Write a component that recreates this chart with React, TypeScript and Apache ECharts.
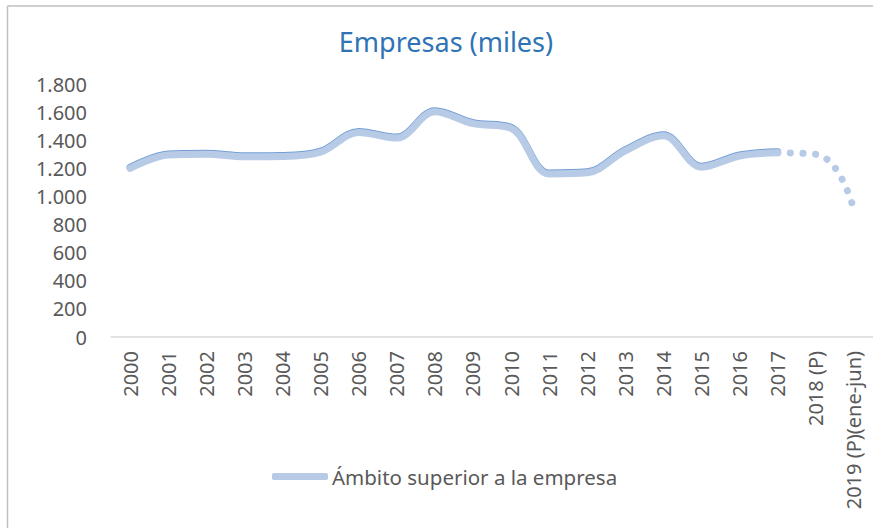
import React, { useEffect, useRef } from "react";
import * as echarts from "echarts";

const categories = [
  "2000", "2001", "2002", "2003", "2004", "2005", "2006", "2007", "2008", "2009",
  "2010", "2011", "2012", "2013", "2014", "2015", "2016", "2017", "2018 (P)", "2019 (P)(ene-jun)",
];
const seriesName = "Ámbito superior a la empresa";
const empresas = [
  1200, 1295, 1300, 1282, 1284, 1315, 1455, 1415, 1603, 1518,
  1485, 1160, 1168, 1325, 1432, 1208, 1288, 1311, 1300, 905,
];
const solidCount = 18; // 2000..2017 solid, then dotted to 2019

const FONT = "'Noto Sans', 'Open Sans', sans-serif";

export default function App() {
  const ref = useRef<HTMLDivElement>(null);
  useEffect(() => {
    if (!ref.current) return;
    const chart = echarts.init(ref.current, null, { renderer: "svg" });
    const solid = empresas.map((v, i) => (i < solidCount ? v : "-"));
    const dotted = empresas.map((v, i) => (i >= solidCount - 1 ? v : "-"));
    const lineColor = "#b7cbe6";
    const edgeColor = "#6f9dd3";
    chart.setOption({
      animation: false,
      backgroundColor: "#ffffff",
      title: {
        text: "Empresas (miles)",
        left: 446,
        textAlign: "center",
        top: 28,
        padding: 0,
        textStyle: { color: "#2e74b5", fontFamily: FONT, fontSize: 27, fontWeight: "normal" },
      },
      legend: {
        data: [seriesName],
        left: 272,
        top: 466,
        padding: 0,
        icon: "roundRect",
        itemWidth: 56,
        itemHeight: 7,
        itemStyle: { color: lineColor },
        textStyle: { color: "#595959", fontFamily: FONT, fontSize: 20.5, padding: [0, 0, 0, -1] },
      },
      grid: { left: 111, right: 0, top: 84, bottom: 191, containLabel: false },
      xAxis: {
        type: "category",
        data: categories,
        boundaryGap: true,
        axisTick: { show: false },
        axisLine: { show: true, lineStyle: { color: "#d9d9d9", width: 1.5 } },
        axisLabel: {
          rotate: 90,
          interval: 0,
          margin: 14,
          color: "#595959",
          fontFamily: FONT,
          fontSize: 20,
        },
      },
      yAxis: {
        type: "value",
        min: 0,
        max: 1800,
        interval: 200,
        axisLine: { show: false },
        axisTick: { show: false },
        splitLine: { show: false },
        axisLabel: {
          margin: 24,
          color: "#595959",
          fontFamily: FONT,
          fontSize: 20,
          formatter: (v: number) => v.toLocaleString("de-DE"),
        },
      },
      series: [
        {
          name: seriesName,
          type: "line",
          data: solid,
          smooth: 0.35,
          showSymbol: false,
          symbol: "none",
          lineStyle: {
            color: lineColor,
            width: 7,
            cap: "round",
            join: "round",
            shadowColor: edgeColor,
            shadowOffsetY: -1,
            shadowBlur: 0,
          },
          itemStyle: { color: lineColor },
        },
        {
          name: seriesName,
          type: "line",
          data: dotted,
          smooth: 0.5,
          showSymbol: false,
          symbol: "none",
          lineStyle: {
            color: lineColor,
            width: 7,
            cap: "round",
            type: [0.1, 12.5],
          },
          itemStyle: { color: lineColor },
        },
      ],
      graphic: [
        {
          type: "line",
          shape: { x1: 7.5, y1: 6, x2: 7.5, y2: 528 },
          style: { stroke: "#bfbfbf", lineWidth: 1.5 },
        },
        {
          type: "line",
          shape: { x1: 7.5, y1: 6, x2: 873, y2: 6 },
          style: { stroke: "#bfbfbf", lineWidth: 1.5 },
        },
      ],
    });
    return () => chart.dispose();
  }, []);
  return (
    <div
      ref={ref}
      style={{ position: "fixed", left: 0, top: 0, width: 873, height: 528, background: "#fff" }}
    />
  );
}
